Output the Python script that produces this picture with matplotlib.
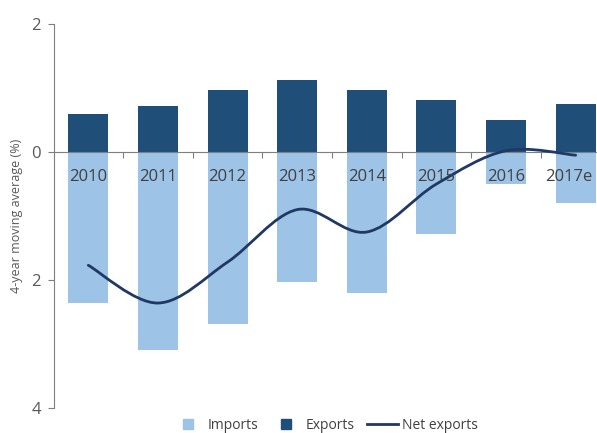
import matplotlib
matplotlib.use("Agg")
import matplotlib.pyplot as plt
from matplotlib.path import Path
from matplotlib.patches import PathPatch
from matplotlib.lines import Line2D

plt.rcParams['font.family'] = ['Open Sans', 'DejaVu Sans']

years = ["2010", "2011", "2012", "2013", "2014", "2015", "2016", "2017e"]
exports = [0.59, 0.72, 0.97, 1.12, 0.97, 0.81, 0.50, 0.75]
imports = [-2.36, -3.09, -2.69, -2.03, -2.21, -1.28, -0.50, -0.80]
net_exports = [-1.77, -2.36, -1.72, -0.90, -1.25, -0.50, 0.02, -0.05]

c_imp = "#9dc3e6"
c_exp = "#1f4e79"
c_net = "#1f3864"
c_axis = "#7f7f7f"
c_text = "#404040"

fig = plt.figure(figsize=(5.97, 4.33), dpi=100)
ax = fig.add_axes([53.5 / 597, 25 / 433, 557 / 597, 384 / 433])

x = list(range(len(years)))
ax.bar(x, imports, width=0.575, color=c_imp, zorder=1)
ax.bar(x, exports, width=0.575, color=c_exp, zorder=1)

# smoothed line (Excel-style), drawn as cubic bezier through the points
pts = list(zip(x, net_exports))
verts = [pts[0]]
codes = [Path.MOVETO]
n = len(pts)
for i in range(n - 1):
    p0 = pts[max(i - 1, 0)]
    p1 = pts[i]
    p2 = pts[i + 1]
    p3 = pts[min(i + 2, n - 1)]
    c1 = (p1[0] + (p2[0] - p0[0]) / 6, p1[1] + (p2[1] - p0[1]) / 6)
    c2 = (p2[0] - (p3[0] - p1[0]) / 6, p2[1] - (p3[1] - p1[1]) / 6)
    verts += [c1, c2, p2]
    codes += [Path.CURVE4] * 3
ax.add_patch(PathPatch(Path(verts, codes), facecolor="none", edgecolor=c_net,
                       lw=2.0, capstyle="round", zorder=4))

ax.set_xlim(-0.5, 7.5)
ax.set_ylim(-4, 2)

for s in ["top", "right"]:
    ax.spines[s].set_visible(False)
ax.spines["bottom"].set_position(("data", 0))
ax.spines["bottom"].set_color(c_axis)
ax.spines["left"].set_color(c_axis)
ax.spines["bottom"].set_zorder(3)

# category labels sit just under the zero line, inside the plot
ax.set_xticks([i + 0.5 for i in x])
ax.set_xticklabels([])
ax.tick_params(axis="x", length=4, direction="out", color=c_axis)
for i, lab in enumerate(years):
    xi = i - 0.1 if i == len(years) - 1 else i
    ax.text(xi, -0.27, lab, ha="center", va="top", fontsize=12, color=c_text,
            zorder=5)

ax.set_yticks([-4, -2, 0, 2])
ax.set_yticklabels(["4", "2", "0", "2"])
ax.tick_params(axis="y", length=4, direction="out", color=c_axis,
               labelsize=12, labelcolor="#595959", pad=5)
ax.set_ylabel("4-year moving average (%)", fontsize=9, color="#595959", labelpad=6)

handles = [
    Line2D([], [], marker="s", linestyle="none", markersize=7, color=c_imp),
    Line2D([], [], marker="s", linestyle="none", markersize=7, color=c_exp),
    Line2D([], [], color=c_net, lw=2.0),
]
fig.legend(handles, ["Imports", "Exports", "Net exports"], loc="lower center",
           bbox_to_anchor=(0.545, -0.028), ncol=3, frameon=False, fontsize=10,
           handlelength=2.2, columnspacing=0.9, handletextpad=0.3,
           labelcolor=c_text)

fig.savefig("out.png", dpi=100)
